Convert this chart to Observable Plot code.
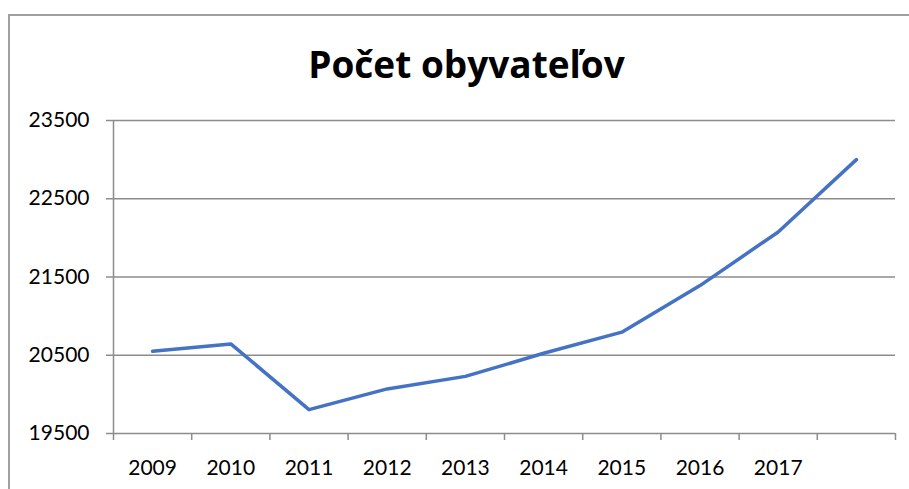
<!DOCTYPE html>
<html>
<head>
<meta charset="utf-8">
<script src="https://cdn.jsdelivr.net/npm/d3@7"></script>
<script src="https://cdn.jsdelivr.net/npm/@observablehq/plot@0.6"></script>
<style>
  html, body { margin: 0; padding: 0; background: #fff; overflow: hidden; width: 909px; height: 489px; }
  #wrap { position: relative; width: 909px; height: 489px; }
  #frame { position: absolute; left: 8px; top: 14px; width: 1000px; height: 1000px; border-left: 2px solid #a0a0a0; border-top: 2px solid #a0a0a0; box-sizing: border-box; }
  #chart { position: absolute; left: 0; top: 0; }
</style>
</head>
<body>
<div id="wrap"><div id="frame"></div><div id="chart"></div></div>
<script>
const title = "Počet obyvateľov";
const years = ["2009", "2010", "2011", "2012", "2013", "2014", "2015", "2016", "2017"];
const population = [20550, 20645, 19805, 20070, 20230, 20525, 20795, 21390, 22075, 23000];
const yTicks = [19500, 20500, 21500, 22500, 23500];

const data = population.map((v, i) => ({pos: i + 0.5, value: v}));
const grid = "#8c8c8c";

const chart = Plot.plot({
  width: 909,
  height: 489,
  marginLeft: 113,
  marginRight: 14,
  marginTop: 120,
  marginBottom: 56,
  style: {fontFamily: "Lato, 'Open Sans', sans-serif", fontSize: "21px", color: "#000", background: "transparent"},
  x: {domain: [0, population.length]},
  y: {domain: [yTicks[0], yTicks[yTicks.length - 1]]},
  marks: [
    Plot.ruleY(yTicks, {stroke: grid, strokeWidth: 1.5}),
    Plot.ruleX([0], {stroke: grid, strokeWidth: 1.5}),
    Plot.axisY({ticks: yTicks, tickSize: 7, tickPadding: 17, stroke: grid, strokeWidth: 1.5, fill: "#000", tickFormat: d => String(d), label: null}),
    Plot.axisX({ticks: d3.range(population.length + 1), tickSize: 7, stroke: grid, strokeWidth: 1.5, tickFormat: () => "", label: null}),
    Plot.axisX({ticks: years.map((_, i) => i + 0.5), tickSize: 0, tickPadding: 27, fill: "#000", tickFormat: d => years[Math.floor(d)] ?? "", label: null}),
    Plot.line(data, {x: "pos", y: "value", stroke: "#4472C4", strokeWidth: 3.5}),
    Plot.text([title], {frameAnchor: "top", dx: -38, dy: -69, fontSize: 37, fontWeight: "bold", fontFamily: "'Open Sans', Lato, sans-serif", fill: "#000", textAnchor: "middle"})
  ]
});
document.getElementById("chart").appendChild(chart);
</script>
</body>
</html>
